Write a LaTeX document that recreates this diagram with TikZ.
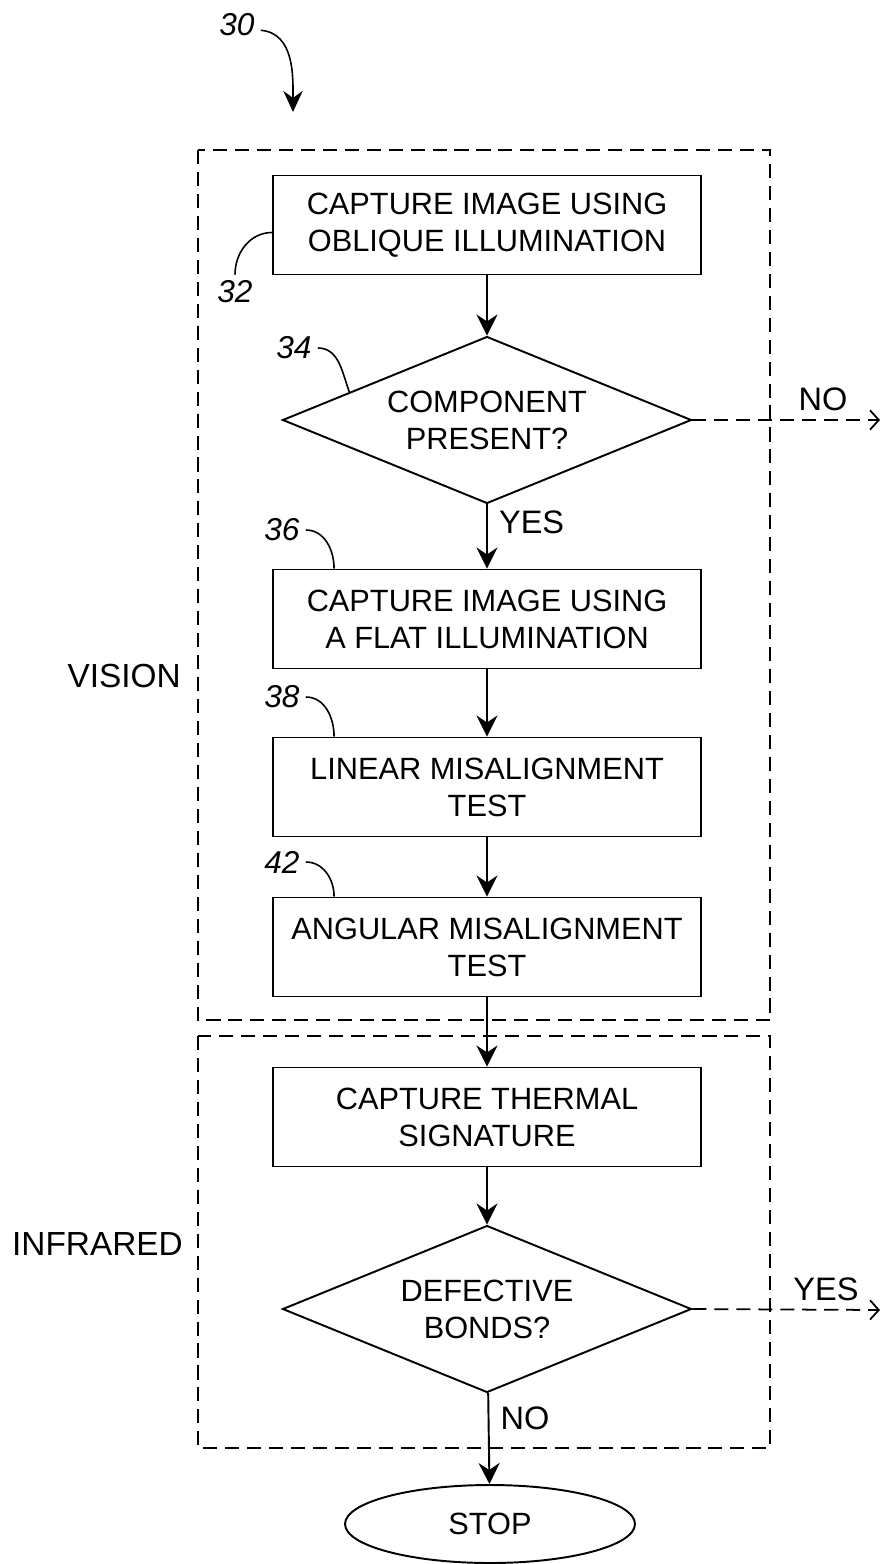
\documentclass[tikz,border=0pt]{standalone}
\usepackage{fontspec}
\setmainfont{Liberation Sans}
\usetikzlibrary{shapes.geometric, arrows.meta, positioning, calc}

\begin{document}
\begin{tikzpicture}[x=0.02cm, y=-0.02cm,
        stepbox/.style={draw, rectangle, line width=1.1pt, minimum width=8.56cm, minimum height=1.98cm, align=center, inner sep=0pt, font=\fontsize{17.5}{21}\selectfont},
        decision/.style={draw, diamond, aspect=2.45, line width=1.1pt, minimum width=8.18cm, minimum height=3.34cm, align=center, inner sep=0pt, font=\fontsize{17.5}{21}\selectfont},
        terminal/.style={draw, ellipse, line width=1.1pt, minimum width=5.8cm, minimum height=1.56cm, font=\fontsize{17.5}{21}\selectfont},
        zone/.style={draw, line width=1.1pt, dash pattern=on 8pt off 4.5pt},
        arrow/.style={-{Stealth[length=12pt, width=12pt, inset=4pt]}, line width=1.1pt},
        exit/.style={-{Straight Barb[length=5pt, width=11pt]}, line width=1pt, dash pattern=on 8pt off 4.5pt},
        refnum/.style={font=\fontsize{18}{21}\selectfont\itshape},
        leader/.style={line width=0.9pt},
        tag/.style={font=\fontsize{18.5}{21}\selectfont}
    ]
        \useasboundingbox (0,0) rectangle (882,1564);

        % Zones
        \draw[zone] (198,150) rectangle (770,1020);
        \draw[zone] (198,1036) rectangle (770,1448);
        \node[tag, font=\fontsize{19}{21}\selectfont, anchor=east] (vision) at (187,676) {VISION};
        \node[tag, font=\fontsize{19}{21}\selectfont, anchor=east] (infrared) at (189,1244) {INFRARED};

        % Steps
        \node[stepbox] (oblique) at (487,225) {CAPTURE IMAGE USING\\OBLIQUE ILLUMINATION};
        \node[decision] (present) at (487,420) {COMPONENT\\PRESENT?};
        \node[stepbox] (flat) at (487,619) {CAPTURE IMAGE USING\\A FLAT ILLUMINATION};
        \node[stepbox] (linear) at (487,787) {LINEAR MISALIGNMENT\\TEST};
        \node[stepbox] (angular) at (487,947) {ANGULAR MISALIGNMENT\\TEST};
        \node[stepbox] (thermal) at (487,1117) {CAPTURE THERMAL\\SIGNATURE};
        \node[decision] (defective) at (487,1309) {DEFECTIVE\\BONDS?};
        \node[terminal] (stop) at (490,1524) {STOP};

        % Flow
        \draw[arrow] (oblique) -- (present);
        \draw[arrow] (present) -- node[tag, right=3pt, pos=0.28] {YES} (flat);
        \draw[arrow] (flat) -- (linear);
        \draw[arrow] (linear) -- (angular);
        \draw[arrow] (angular) -- (thermal);
        \draw[arrow] (thermal) -- (defective);
        \draw[arrow] (defective) -- node[tag, right=3pt, pos=0.28] {NO} (stop);

        % Exits
        \coordinate (noexit) at (880,420);
        \coordinate (yesexit) at (880,1310);
        \draw[exit] (present.east) -- (noexit);
        \draw[exit] (defective.east) -- (yesexit);
        \node[tag] (nolabel) at (823,399) {NO};
        \node[tag] (yeslabel) at (826,1289) {YES};

        % Reference numerals
        \node[refnum] (r30) at (237,25) {30};
        \coordinate (r30tip) at (293,112);
        \draw[leader, -{Stealth[length=12pt, width=11pt, inset=4pt]}] ([yshift=-3pt]r30.east) to[out=-5, in=90] (r30tip);

        \node[refnum] (r32) at (235,292) {32};
        \draw[leader] (r32.north) to[out=90, in=180] ([yshift=-0.15cm]oblique.west);

        \node[refnum] (r34) at (294,348) {34};
        \draw[leader] (r34.east) to[out=0, in=110] ($(present.west)!0.33!(present.north)$);

        \node[refnum] (r36) at (282,530) {36};
        \draw[leader] (r36.east) to[out=0, in=90] ([xshift=1.24cm]flat.north west);

        \node[refnum] (r38) at (282,697) {38};
        \draw[leader] (r38.east) to[out=0, in=90] ([xshift=1.24cm]linear.north west);

        \node[refnum] (r42) at (282,862) {42};
        \draw[leader] (r42.east) to[out=0, in=90] ([xshift=1.24cm]angular.north west);
    \end{tikzpicture}
\end{document}
